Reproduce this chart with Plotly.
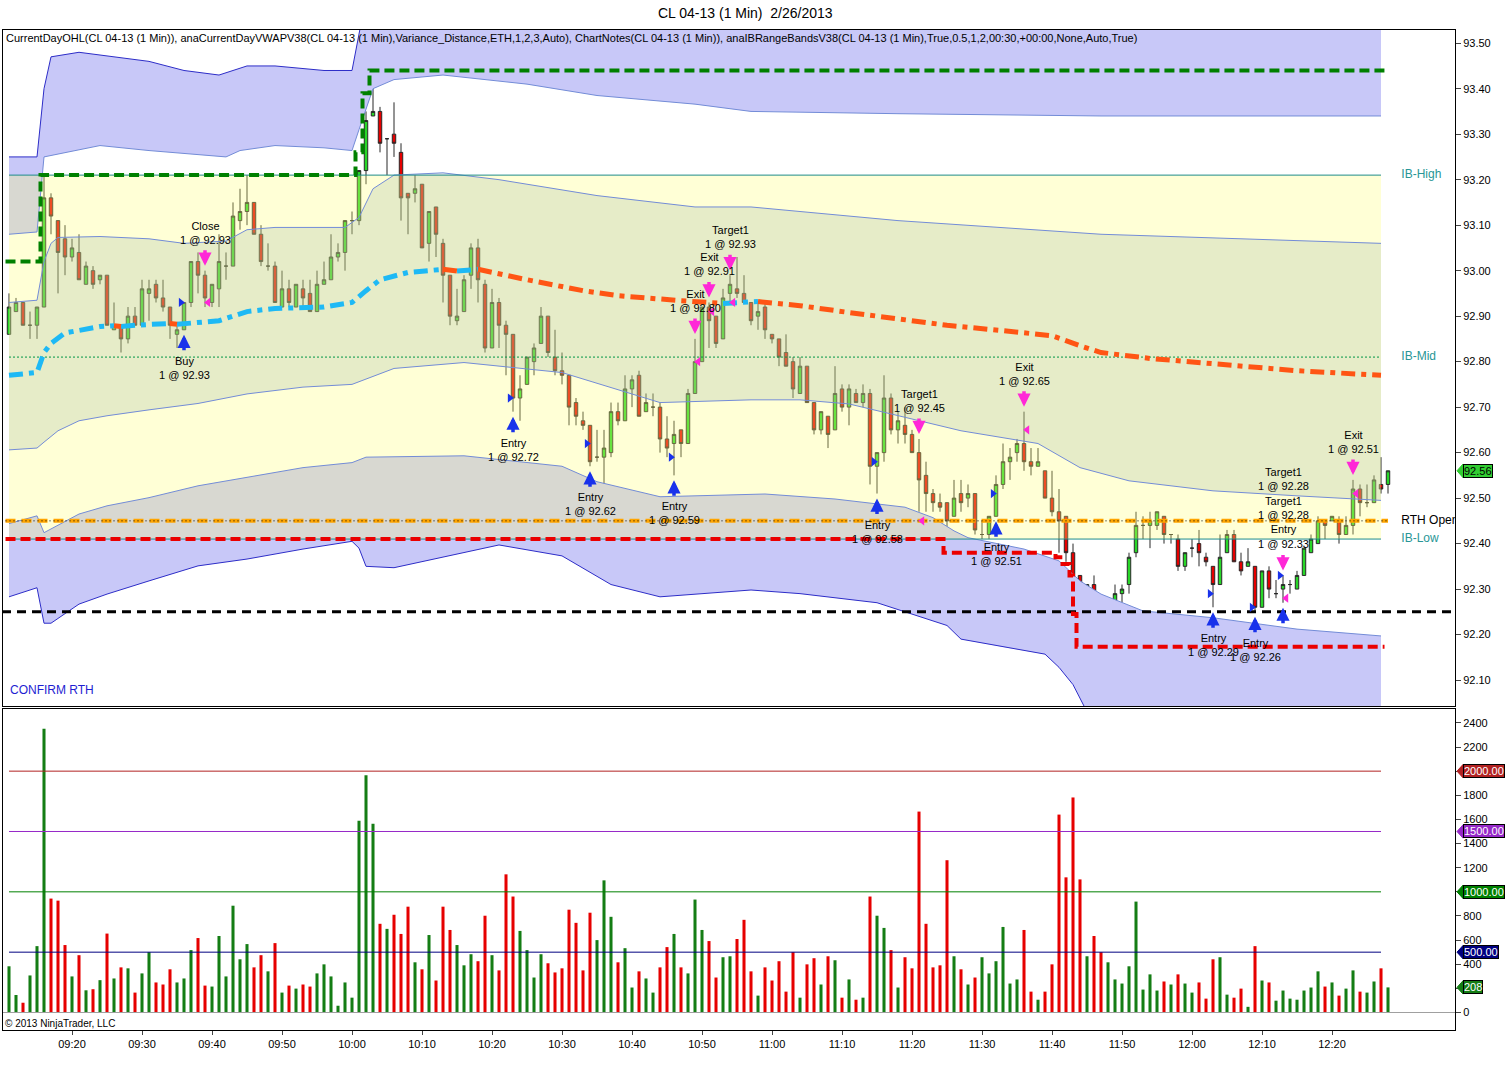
import pandas as pd
import plotly.graph_objects as go

FONT = "Arial, Liberation Sans, sans-serif"

# ---- CL 04-13 (1 Min), 2/26/2013, bars from 09:11 ----
bar_open = [
    92.86, 92.91, 92.93, 92.88, 92.88, 92.92, 93.16, 93.11, 93.07, 93.03,
    93.04, 92.97, 93.00, 92.98, 92.99, 92.87, 92.88, 92.85, 92.90, 92.88,
    92.95, 92.97, 92.94, 92.92, 92.86, 92.87, 92.93, 93.02, 92.99, 92.93,
    92.96, 93.01, 93.01, 93.11, 93.13, 93.15, 93.08, 93.01, 93.01, 92.92,
    92.96, 92.92, 92.96, 92.95, 92.91, 92.97, 92.98, 93.03, 93.04, 93.11,
    93.11, 93.22, 93.34, 93.35, 93.29, 93.30, 93.26, 93.17, 93.17, 93.19,
    93.06, 93.14, 93.06, 92.99, 92.89, 92.91, 92.99, 93.05, 92.97, 92.83,
    92.93, 92.88, 92.86, 92.72, 92.75, 92.80, 92.84, 92.90, 92.81, 92.78,
    92.77, 92.71, 92.67, 92.66, 92.59, 92.59, 92.60, 92.69, 92.67, 92.74,
    92.77, 92.69, 92.70, 92.70, 92.63, 92.62, 92.65, 92.62, 92.73, 92.80,
    92.92, 92.90, 92.85, 92.95, 92.96, 92.95, 92.93, 92.90, 92.92, 92.86,
    92.85, 92.82, 92.80, 92.73, 92.79, 92.71, 92.65, 92.68, 92.65, 92.74,
    92.70, 92.73, 92.71, 92.73, 92.57, 92.60, 92.72, 92.65, 92.66, 92.64,
    92.60, 92.55, 92.51, 92.49, 92.49, 92.46, 92.51, 92.50, 92.51, 92.42,
    92.42, 92.46, 92.53, 92.58, 92.60, 92.62, 92.58, 92.57, 92.56, 92.50,
    92.47, 92.46, 92.38, 92.33, 92.18, 92.31, 92.24, 92.20, 92.22, 92.29,
    92.31, 92.38, 92.44, 92.44, 92.44, 92.46, 92.42, 92.41, 92.35, 92.39,
    92.40, 92.37, 92.35, 92.31, 92.38, 92.42, 92.36, 92.35, 92.35, 92.26,
    92.34, 92.29, 92.30, 92.31, 92.30, 92.33, 92.38, 92.40, 92.45, 92.45,
    92.45, 92.42, 92.44, 92.52, 92.49, 92.49, 92.53, 92.53,
]
bar_high = [
    92.95, 92.94, 92.93, 92.91, 92.92, 93.21, 93.17, 93.11, 93.10, 93.07,
    93.08, 93.02, 93.01, 92.99, 92.99, 92.93, 92.88, 92.92, 92.92, 92.98,
    92.98, 92.98, 92.98, 92.92, 92.88, 92.93, 93.02, 93.04, 93.00, 92.97,
    93.08, 93.04, 93.15, 93.18, 93.21, 93.15, 93.10, 93.06, 93.02, 93.00,
    92.98, 92.97, 92.98, 92.98, 93.00, 93.02, 93.08, 93.06, 93.11, 93.13,
    93.22, 93.35, 93.44, 93.36, 93.29, 93.37, 93.28, 93.17, 93.21, 93.19,
    93.13, 93.14, 93.07, 92.99, 92.96, 92.99, 93.06, 93.07, 92.98, 92.96,
    92.94, 92.89, 92.86, 92.77, 92.81, 92.84, 92.92, 92.90, 92.87, 92.82,
    92.77, 92.72, 92.69, 92.66, 92.65, 92.65, 92.71, 92.71, 92.77, 92.77,
    92.78, 92.73, 92.73, 92.71, 92.68, 92.67, 92.65, 92.74, 92.85, 92.92,
    92.93, 92.90, 92.96, 92.99, 93.03, 92.99, 92.93, 92.93, 92.93, 92.86,
    92.85, 92.86, 92.81, 92.81, 92.79, 92.71, 92.69, 92.68, 92.79, 92.75,
    92.75, 92.74, 92.75, 92.74, 92.60, 92.77, 92.73, 92.69, 92.70, 92.65,
    92.63, 92.58, 92.52, 92.51, 92.49, 92.54, 92.54, 92.53, 92.51, 92.45,
    92.46, 92.55, 92.62, 92.61, 92.63, 92.69, 92.61, 92.61, 92.56, 92.56,
    92.52, 92.46, 92.40, 92.33, 92.31, 92.33, 92.26, 92.26, 92.31, 92.31,
    92.38, 92.47, 92.46, 92.47, 92.47, 92.46, 92.42, 92.42, 92.38, 92.41,
    92.43, 92.38, 92.35, 92.42, 92.43, 92.43, 92.38, 92.39, 92.35, 92.34,
    92.35, 92.32, 92.33, 92.32, 92.34, 92.39, 92.42, 92.46, 92.45, 92.46,
    92.46, 92.46, 92.54, 92.53, 92.53, 92.55, 92.59, 92.56,
]
bar_low = [
    92.86, 92.91, 92.88, 92.85, 92.85, 92.92, 93.08, 92.95, 92.99, 93.02,
    92.98, 92.97, 92.96, 92.97, 92.88, 92.87, 92.82, 92.84, 92.88, 92.88,
    92.89, 92.93, 92.91, 92.85, 92.83, 92.87, 92.92, 92.95, 92.92, 92.92,
    92.92, 92.98, 93.01, 93.09, 93.10, 93.08, 93.01, 93.00, 92.93, 92.92,
    92.92, 92.92, 92.92, 92.91, 92.91, 92.97, 92.98, 93.02, 93.00, 93.08,
    93.10, 93.19, 93.34, 93.26, 93.21, 93.25, 93.11, 93.08, 93.15, 93.05,
    93.02, 93.03, 92.93, 92.88, 92.88, 92.91, 92.96, 92.93, 92.82, 92.83,
    92.83, 92.77, 92.69, 92.67, 92.75, 92.77, 92.84, 92.81, 92.77, 92.75,
    92.66, 92.66, 92.65, 92.57, 92.58, 92.52, 92.59, 92.66, 92.67, 92.70,
    92.68, 92.69, 92.68, 92.60, 92.59, 92.55, 92.59, 92.62, 92.73, 92.80,
    92.83, 92.83, 92.85, 92.93, 92.94, 92.93, 92.88, 92.87, 92.85, 92.84,
    92.79, 92.79, 92.72, 92.73, 92.71, 92.64, 92.64, 92.61, 92.65, 92.69,
    92.66, 92.71, 92.70, 92.53, 92.51, 92.58, 92.64, 92.62, 92.62, 92.60,
    92.47, 92.47, 92.47, 92.47, 92.41, 92.46, 92.47, 92.48, 92.42, 92.41,
    92.41, 92.46, 92.52, 92.54, 92.58, 92.56, 92.55, 92.57, 92.50, 92.46,
    92.38, 92.36, 92.25, 92.18, 92.18, 92.19, 92.18, 92.20, 92.22, 92.27,
    92.29, 92.37, 92.41, 92.39, 92.43, 92.40, 92.40, 92.34, 92.34, 92.37,
    92.35, 92.35, 92.26, 92.31, 92.38, 92.36, 92.33, 92.35, 92.25, 92.26,
    92.28, 92.28, 92.27, 92.29, 92.30, 92.33, 92.38, 92.40, 92.41, 92.45,
    92.40, 92.42, 92.42, 92.46, 92.48, 92.49, 92.51, 92.51,
]
bar_close = [
    92.92, 92.93, 92.88, 92.88, 92.92, 93.16, 93.12, 93.04, 93.03, 93.05,
    92.98, 93.01, 92.97, 92.99, 92.88, 92.88, 92.85, 92.90, 92.88, 92.96,
    92.96, 92.94, 92.92, 92.88, 92.87, 92.93, 93.02, 92.99, 92.94, 92.97,
    93.02, 93.01, 93.12, 93.13, 93.15, 93.08, 93.02, 93.01, 92.93, 92.96,
    92.93, 92.97, 92.94, 92.91, 92.97, 92.98, 93.03, 93.04, 93.11, 93.11,
    93.22, 93.33, 93.35, 93.28, 93.29, 93.28, 93.16, 93.16, 93.18, 93.05,
    93.13, 93.08, 92.99, 92.90, 92.90, 92.98, 93.05, 92.98, 92.83, 92.93,
    92.88, 92.86, 92.72, 92.74, 92.81, 92.83, 92.90, 92.82, 92.78, 92.77,
    92.70, 92.68, 92.66, 92.58, 92.59, 92.61, 92.69, 92.67, 92.74, 92.76,
    92.68, 92.71, 92.70, 92.63, 92.61, 92.64, 92.62, 92.73, 92.80, 92.92,
    92.89, 92.84, 92.94, 92.97, 92.95, 92.93, 92.89, 92.91, 92.87, 92.85,
    92.81, 92.79, 92.74, 92.79, 92.71, 92.65, 92.69, 92.64, 92.73, 92.70,
    92.74, 92.71, 92.73, 92.57, 92.60, 92.72, 92.65, 92.67, 92.64, 92.60,
    92.54, 92.51, 92.49, 92.48, 92.45, 92.50, 92.49, 92.51, 92.43, 92.42,
    92.46, 92.53, 92.58, 92.59, 92.62, 92.58, 92.57, 92.58, 92.50, 92.47,
    92.45, 92.38, 92.32, 92.18, 92.31, 92.23, 92.21, 92.24, 92.29, 92.30,
    92.37, 92.44, 92.44, 92.45, 92.47, 92.42, 92.42, 92.35, 92.38, 92.39,
    92.38, 92.36, 92.31, 92.37, 92.42, 92.36, 92.34, 92.36, 92.26, 92.34,
    92.30, 92.29, 92.31, 92.31, 92.33, 92.39, 92.41, 92.45, 92.44, 92.46,
    92.42, 92.44, 92.52, 92.49, 92.49, 92.54, 92.52, 92.56,
]
volume = [
    383, 145, 81, 307, 550, 2352, 944, 927, 559, 299,
    475, 184, 193, 268, 654, 282, 374, 366, 165, 324,
    500, 249, 232, 358, 249, 282, 517, 617, 223, 215,
    634, 299, 885, 441, 567, 374, 475, 341, 575, 165,
    223, 198, 232, 215, 324, 399, 299, 56, 249, 123,
    1589, 1966, 1564, 735, 693, 810, 651, 877, 416, 358,
    642, 265, 877, 684, 559, 391, 483, 425, 802, 475,
    349, 1145, 961, 676, 517, 290, 483, 408, 332, 366,
    852, 743, 349, 827, 600, 1095, 793, 416, 533, 207,
    341, 282, 165, 374, 542, 651, 374, 324, 936, 684,
    592, 290, 458, 466, 609, 768, 341, 140, 374, 265,
    425, 173, 500, 123, 399, 450, 232, 466, 433, 123,
    274, 106, 123, 961, 802, 701, 517, 207, 458, 366,
    1665, 735, 374, 391, 1262, 466, 358, 232, 290, 458,
    324, 425, 709, 240, 274, 684, 173, 106, 173, 399,
    1640, 1120, 1782, 1103, 466, 634, 500, 416, 274, 240,
    383, 919, 190, 316, 182, 257, 232, 316, 240, 165,
    249, 115, 441, 458, 148, 123, 198, 47, 550, 265,
    249, 98, 182, 115, 106, 182, 207, 341, 215, 249,
    140, 198, 349, 173, 165, 257, 366, 208,
]

# VWAP and its 1/2/3 deviation bands, read as (bar index, price)
vwap_pts = [(0, 92.77), (4, 92.776), (5, 92.82), (6, 92.84), (8, 92.863), (13, 92.877),
            (15, 92.879), (16, 92.877), (18, 92.88), (23, 92.884), (24, 92.882), (25, 92.883),
            (30, 92.89), (34, 92.91), (38, 92.917), (45, 92.92), (49, 92.93), (51, 92.956),
            (53, 92.98), (57, 92.996), (62, 93.003), (64, 92.999), (67, 93.003), (69, 92.996),
            (74, 92.98), (82, 92.956), (87, 92.945), (96, 92.934), (102, 92.928), (107, 92.932),
            (113, 92.923), (120, 92.908), (127, 92.895), (134, 92.88), (142, 92.868),
            (149, 92.857), (153, 92.835), (156, 92.82), (163, 92.807), (170, 92.798),
            (177, 92.79), (184, 92.78), (196, 92.77)]
upper3 = [(0, 93.25), (4, 93.25), (5, 93.40), (6, 93.47), (10, 93.48), (15, 93.47), (20, 93.46),
          (25, 93.44), (30, 93.43), (34, 93.45), (38, 93.45), (45, 93.44), (49, 93.44),
          (50, 93.52), (51, 93.60), (55, 93.65), (100, 93.63), (150, 93.63), (196, 93.64)]
upper2 = [(0, 93.08), (4, 93.085), (5, 93.25), (13, 93.275), (20, 93.264), (31, 93.25),
          (33, 93.264), (38, 93.275), (45, 93.27), (49, 93.264), (50, 93.31), (52, 93.40),
          (55, 93.42), (62, 93.43), (74, 93.41), (84, 93.385), (98, 93.366), (106, 93.35),
          (127, 93.345), (156, 93.34), (196, 93.34)]
upper1 = [(0, 92.93), (4, 92.935), (5, 93.02), (6, 93.06), (7, 93.073), (13, 93.075),
          (20, 93.07), (25, 93.06), (31, 93.065), (34, 93.09), (38, 93.095), (48, 93.095),
          (50, 93.117), (52, 93.18), (55, 93.21), (62, 93.215), (70, 93.20), (84, 93.165),
          (98, 93.14), (106, 93.14), (127, 93.11), (156, 93.08), (196, 93.06)]
lower1 = [(0, 92.606), (4, 92.61), (5, 92.623), (7, 92.648), (10, 92.67), (14, 92.681),
          (20, 92.694), (27, 92.708), (34, 92.729), (42, 92.744), (49, 92.75), (55, 92.785),
          (65, 92.798), (70, 92.79), (79, 92.776), (93, 92.71), (106, 92.716), (113, 92.716),
          (120, 92.707), (126, 92.685), (136, 92.648), (147, 92.62), (153, 92.567),
          (160, 92.538), (172, 92.516), (184, 92.505), (196, 92.495)]
lower2 = [(0, 92.444), (4, 92.461), (5, 92.424), (10, 92.465), (14, 92.483), (20, 92.501),
          (27, 92.527), (34, 92.545), (42, 92.567), (49, 92.578), (51, 92.59), (65, 92.593),
          (79, 92.57), (84, 92.536), (93, 92.503), (108, 92.509), (118, 92.498), (128, 92.48),
          (132, 92.457), (135, 92.428), (137, 92.413), (145, 92.388), (150, 92.362),
          (153, 92.318), (156, 92.289), (162, 92.252), (172, 92.237), (184, 92.212),
          (196, 92.197)]
lower3 = [(0, 92.283), (4, 92.303), (5, 92.225), (6, 92.225), (10, 92.267), (14, 92.289),
          (20, 92.318), (27, 92.351), (34, 92.366), (42, 92.388), (49, 92.405), (50, 92.39),
          (51, 92.35), (55, 92.347), (70, 92.397), (79, 92.373), (86, 92.31), (93, 92.283),
          (106, 92.298), (113, 92.29), (124, 92.27), (134, 92.22), (136, 92.19), (143, 92.17),
          (148, 92.157), (150, 92.128), (152, 92.09), (154, 92.03), (156, 91.95), (170, 91.92),
          (196, 91.90)]

# levels
ib_high = 93.21
ib_mid = 92.81
ib_low = 92.41
rth_open = 92.45
ref_level = 92.25
day_high_steps = [(-0.5, 93.02), (4.5, 93.21), (49.5, 93.26), (50.5, 93.39), (51.5, 93.44)]
day_low_steps = [(-0.5, 92.41), (133.5, 92.38), (149.5, 92.37), (150.5, 92.355),
                 (151.5, 92.33), (152.0, 92.245), (152.5, 92.173)]
vol_levels = [2000, 1500, 1000, 500]
vol_level_colors = ["rgb(178,34,34)", "rgb(150,40,200)", "rgb(0,128,0)", "rgb(0,0,128)"]
vol_ticks = list(range(0, 2401, 200))

# chart notes: (bar, label, price)
buy_notes = [(25, "Buy", "92.93"), (72, "Entry", "92.72"), (83, "Entry", "92.62"),
             (95, "Entry", "92.59"), (124, "Entry", "92.58"), (141, "Entry", "92.51"),
             (172, "Entry", "92.29"), (178, "Entry", "92.26")]
sell_notes = [(28, "Close", "92.93"), (98, "Exit", "92.80"), (100, "Exit", "92.91"),
              (103, "Target1", "92.93"), (130, "Target1", "92.45"), (145, "Exit", "92.65"),
              (182, "Target1", "92.28"), (182, "Target1", "92.28"), (182, "Entry", "92.33"),
              (192, "Exit", "92.51")]
buy_arrow_bars = [25, 72, 83, 95, 124, 141, 172, 178, 182]
sell_arrow_bars = [28, 98, 100, 103, 130, 145, 182, 192]
buy_fills = [(25, 92.93), (72, 92.72), (83, 92.62), (95, 92.59), (124, 92.58), (141, 92.51),
             (172, 92.29), (178, 92.26), (182, 92.33)]
sell_fills = [(28, 92.93), (98, 92.80), (100, 92.91), (103, 92.93), (130, 92.45), (145, 92.65),
              (182, 92.28), (192, 92.51)]

t0 = pd.Timestamp("2013-02-26 09:11")
times = [t0 + pd.Timedelta(minutes=i) for i in range(len(bar_open))]


def t(i):
    return t0 + pd.Timedelta(seconds=60 * i)


W, H = 1512, 1076
X0, X1 = 3 / W, 1455 / W
PRICE_DOM = [1 - 706 / H, 1 - 30 / H]
VOL_DOM = [1 - 1030 / H, 1 - 709 / H]
X_RANGE = [t(-0.857), t(206.57)]
LAST = len(bar_open) - 2  # bands/lines end one bar before the last bar

BUY_BLUE = "rgb(25,50,235)"
SELL_MAG = "rgb(255,40,215)"
LAVENDER = "rgb(200,200,248)"

fig = go.Figure()


def add_band(upper, lower, color):
    xs = [t(i) for i, _ in upper] + [t(i) for i, _ in reversed(lower)]
    ys = [v for _, v in upper] + [v for _, v in reversed(lower)]
    fig.add_trace(go.Scatter(x=xs, y=ys, mode="lines", fill="toself", fillcolor=color,
                             line=dict(width=0), hoverinfo="skip"))


def add_knots(pts, color, width=1):
    fig.add_trace(go.Scatter(x=[t(i) for i, _ in pts], y=[v for _, v in pts], mode="lines",
                             line=dict(color=color, width=width), hoverinfo="skip"))


def add_hline(y, color, width, dash="solid", x0=0, x1=LAST):
    fig.add_trace(go.Scatter(x=[t(x0), t(x1)], y=[y, y], mode="lines",
                             line=dict(color=color, width=width, dash=dash), hoverinfo="skip"))


def add_steps(steps, color, end):
    xs = [t(i) for i, _ in steps] + [t(end)]
    ys = [v for _, v in steps] + [steps[-1][1]]
    fig.add_trace(go.Scatter(x=xs, y=ys, mode="lines", line_shape="hv",
                             line=dict(color=color, width=4, dash="10px,5px"), hoverinfo="skip"))


# deviation bands, initial balance box
add_band(upper3, upper2, LAVENDER)
add_band(lower2, lower3, LAVENDER)
fig.add_trace(go.Scatter(x=[t(0), t(LAST), t(LAST), t(0)], y=[ib_low, ib_low, ib_high, ib_high],
                         mode="lines", fill="toself", fillcolor="rgba(255,255,120,0.3)",
                         line=dict(width=0), hoverinfo="skip"))
add_band(upper1, lower1, "rgba(140,170,150,0.22)")
for pts in (upper2, upper1, lower1, lower2):
    add_knots(pts, "rgb(115,140,215)")
for pts in (upper3, lower3):
    add_knots(pts, "rgb(45,45,200)")

add_hline(ib_high, "rgb(30,140,140)", 1)
add_hline(ib_mid, "rgb(0,150,70)", 1, "2px,2px")
add_hline(ib_low, "rgb(30,140,140)", 1)
add_hline(ref_level, "black", 3, "9px,6px", -1, 207)
add_hline(rth_open, "rgb(255,165,0)", 4, "10px,6px", -0.5, LAST + 1)
add_hline(rth_open, "black", 1, "1px,3px", -0.5, LAST + 1)
add_steps(day_low_steps, "rgb(235,0,0)", LAST + 0.5)

# VWAP: blue while rising, orange-red while falling
segs = {"up": ([], []), "dn": ([], [])}
prev = None
for (i0, v0), (i1, v1) in zip(vwap_pts, vwap_pts[1:]):
    key = "up" if v1 >= v0 else "dn"
    xs, ys = segs[key]
    if key != prev:
        xs += [None, t(i0)]
        ys += [None, v0]
    xs.append(t(i1))
    ys.append(v1)
    prev = key
for key, color in (("up", "rgb(30,185,245)"), ("dn", "rgb(255,85,20)")):
    xs, ys = segs[key]
    fig.add_trace(go.Scatter(x=xs, y=ys, mode="lines", connectgaps=False,
                             line=dict(color=color, width=5, dash="14px,6px,5px,6px"),
                             hoverinfo="skip"))

fig.add_trace(go.Candlestick(
    x=times, open=bar_open, high=bar_high, low=bar_low, close=bar_close,
    increasing=dict(fillcolor="rgb(40,215,40)", line=dict(color="rgb(40,40,40)", width=1)),
    decreasing=dict(fillcolor="rgb(230,0,0)", line=dict(color="rgb(40,40,40)", width=1)),
    whiskerwidth=0, hoverinfo="skip"))

add_steps(day_high_steps, "rgb(0,128,0)", LAST + 0.5)

# execution markers
fig.add_trace(go.Scatter(x=[t(i - 0.45) for i, _ in buy_fills], y=[p for _, p in buy_fills],
                         mode="markers", marker=dict(symbol="triangle-right", size=8, color=BUY_BLUE),
                         hoverinfo="skip"))
fig.add_trace(go.Scatter(x=[t(i + 0.45) for i, _ in sell_fills], y=[p for _, p in sell_fills],
                         mode="markers", marker=dict(symbol="triangle-left", size=8, color=SELL_MAG),
                         hoverinfo="skip"))

# level labels on the right, clipped by the plot area
level_names = ["IB-High", "IB-Mid", "RTH Open", "IB-Low"]
level_vals = [ib_high, ib_mid, rth_open, ib_low]
level_colors = ["rgb(40,150,150)", "rgb(40,150,150)", "black", "rgb(40,150,150)"]
fig.add_trace(go.Scatter(x=[t(198.9)] * 4, y=level_vals, mode="text", text=level_names,
                         textposition="middle right", cliponaxis=True,
                         textfont=dict(family=FONT, size=12, color=level_colors),
                         hoverinfo="skip"))

# volume
vol_colors = ["rgb(20,125,20)" if c >= o else "rgb(230,0,0)" for o, c in zip(bar_open, bar_close)]
fig.add_trace(go.Bar(x=times, y=volume, width=26000, marker=dict(color=vol_colors, line_width=0),
                     xaxis="x2", yaxis="y2", hoverinfo="skip"))
for lvl, col in zip(vol_levels, vol_level_colors):
    fig.add_trace(go.Scatter(x=[t(0), t(LAST)], y=[lvl, lvl], mode="lines",
                             line=dict(color=col, width=1), xaxis="x2", yaxis="y2",
                             hoverinfo="skip"))
fig.add_shape(type="line", xref="x2 domain", yref="y2", x0=0, x1=1, y0=0, y1=0,
              line=dict(color="rgb(160,160,160)", width=1))

# trade arrows and notes
for i in buy_arrow_bars:
    fig.add_annotation(x=times[i], y=bar_low[i], yshift=-5, ax=0, ay=17, text="",
                       showarrow=True, arrowhead=2, arrowsize=0.75, arrowwidth=3.5,
                       arrowcolor=BUY_BLUE)
for i in sell_arrow_bars:
    fig.add_annotation(x=times[i], y=bar_high[i], yshift=5, ax=0, ay=-17, text="",
                       showarrow=True, arrowhead=2, arrowsize=0.75, arrowwidth=3.5,
                       arrowcolor=SELL_MAG)


def grouped(notes):
    out = {}
    for i, label, price in notes:
        out.setdefault(i, []).append(f"{label}<br>1 @ {price}")
    return out


for i, lines in grouped(buy_notes).items():
    fig.add_annotation(x=times[i], y=bar_low[i], yshift=-23, yanchor="top", showarrow=False,
                       text="<br>".join(lines), font=dict(family=FONT, size=11, color="black"))
for i, lines in grouped(sell_notes).items():
    fig.add_annotation(x=times[i], y=bar_high[i], yshift=23, yanchor="bottom", showarrow=False,
                       text="<br>".join(lines), font=dict(family=FONT, size=11, color="black"))


def add_axis_tag(yval, text, fill, font_color, yref, half):
    tip, box = 1457 / W, 1463 / W
    fig.add_shape(type="path", xref="paper", yref=yref,
                  path=f"M {tip},{yval} L {box},{yval + half} L {box},{yval - half} Z",
                  fillcolor=fill, line=dict(color=fill, width=1))
    fig.add_annotation(xref="paper", yref=yref, x=box, y=yval, xanchor="left", yanchor="middle",
                       text=text, showarrow=False, bgcolor=fill, bordercolor="black",
                       borderwidth=1, borderpad=0, font=dict(family=FONT, size=11, color=font_color))


add_axis_tag(bar_close[-1], f"{bar_close[-1]:.2f}", "rgb(50,205,50)", "black", "y", 0.015)
for lvl, col in zip(vol_levels, vol_level_colors):
    add_axis_tag(lvl, f"{lvl:.2f}", col, "white", "y2", 55)
add_axis_tag(volume[-1], str(volume[-1]), "rgb(20,125,20)", "white", "y2", 55)

# tick labels that sit under a tag are hidden by it, as on the original
covered = {2000, 1000, 200}
vol_ticktext = ["" if v in covered else str(v) for v in vol_ticks]

# texts
fig.add_annotation(xref="paper", yref="paper", x=745 / W, y=1 - 13 / H, yanchor="middle",
                   showarrow=False, text="CL 04-13 (1 Min)\u00a0\u00a02/26/2013",
                   font=dict(family=FONT, size=14, color="black"))
fig.add_annotation(xref="paper", yref="paper", x=4 / W, y=1 - 38 / H, xanchor="left",
                   yanchor="middle", showarrow=False,
                   font=dict(family=FONT, size=11, color="black"),
                   text="CurrentDayOHL(CL 04-13 (1 Min)), anaCurrentDayVWAPV38(CL 04-13 (1 Min),"
                        "Variance_Distance,ETH,1,2,3,Auto), ChartNotes(CL 04-13 (1 Min)), "
                        "anaIBRangeBandsV38(CL 04-13 (1 Min),True,0.5,1,2,00:30,+00:00,None,Auto,True)")
fig.add_annotation(xref="paper", yref="paper", x=8 / W, y=1 - 690 / H, xanchor="left",
                   yanchor="middle", showarrow=False, text="CONFIRM RTH",
                   font=dict(family=FONT, size=12, color="rgb(30,30,210)"))
fig.add_annotation(xref="paper", yref="paper", x=3 / W, y=1 - 1023 / H, xanchor="left",
                   yanchor="middle", showarrow=False, text="© 2013 NinjaTrader, LLC",
                   font=dict(family=FONT, size=10, color="black"))

tick_times = [tm for tm in times if tm.minute % 10 == 0]
axis_common = dict(showgrid=False, showline=True, mirror=True, linecolor="black", linewidth=1,
                   zeroline=False, tickfont=dict(family=FONT, size=11, color="black"))
fig.update_layout(
    width=W, height=H, margin=dict(l=0, r=0, t=0, b=0),
    paper_bgcolor="white", plot_bgcolor="white", showlegend=False,
    font=dict(family=FONT, size=11, color="black"),
    xaxis=dict(domain=[X0, X1], range=X_RANGE, type="date", anchor="y", showticklabels=False,
               ticks="", rangeslider=dict(visible=False), **axis_common),
    yaxis=dict(domain=PRICE_DOM, range=[92.043, 93.529], anchor="x", side="right",
               tick0=92.0, dtick=0.1, tickformat=".2f", ticks="outside", ticklen=5,
               **axis_common),
    xaxis2=dict(domain=[X0, X1], range=X_RANGE, type="date", anchor="y2", tickformat="%H:%M",
                tickvals=tick_times, ticks="outside", ticklen=4, **axis_common),
    yaxis2=dict(domain=VOL_DOM, range=[-145, 2515], anchor="x2", side="right",
                tickvals=vol_ticks, ticktext=vol_ticktext, ticks="outside", ticklen=5,
                **axis_common),
)

fig.write_html("out.html", config={"displayModeBar": False},
               post_script="document.body.style.margin='0';"
                           "document.body.style.overflow='hidden';")
